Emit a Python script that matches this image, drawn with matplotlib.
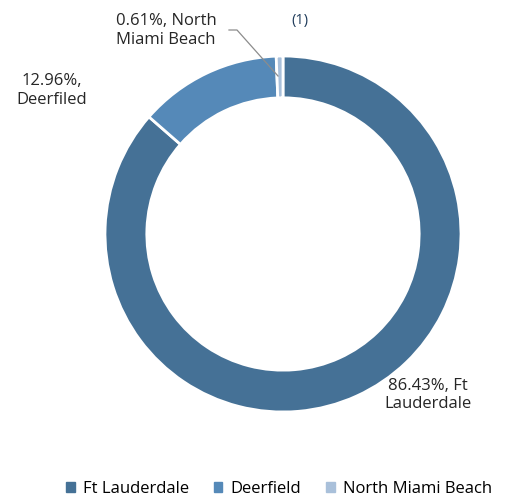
import matplotlib
matplotlib.use("Agg")
from matplotlib import pyplot as plt

cities = ["Ft Lauderdale", "Deerfield", "North Miami Beach"]
shares = [86.43, 12.96, 0.61]
label_names = ["Ft\nLauderdale", "Deerfiled", "North\nMiami Beach"]
colors = ["#457196", "#5589B8", "#A9C0DA"]

plt.rcParams['font.family'] = ['Open Sans', 'DejaVu Sans']

W, H = 505, 499
fig = plt.figure(figsize=(W / 100, H / 100), dpi=100)
ax = fig.add_axes([0, 0, 1, 1])

cx, cy, r = 283, H - 234, 178
ax.pie(shares, colors=colors, startangle=90, counterclock=False,
       center=(cx, cy), radius=r, frame=True,
       wedgeprops=dict(width=r * 0.235, edgecolor='white', linewidth=2))
ax.set_xlim(0, W)
ax.set_ylim(0, H)
ax.set_aspect('equal')
ax.axis('off')

fs = 12
ax.text(428, H - 395, f"{shares[0]:.2f}%, Ft\nLauderdale", ha='center', va='center',
        fontsize=fs, color='#262626', linespacing=1.25)
ax.text(52, H - 90, f"{shares[1]:.2f}%,\n{label_names[1]}", ha='center', va='center',
        fontsize=fs, color='#262626', linespacing=1.25)
ax.text(166, H - 30, f"{shares[2]:.2f}%, North\nMiami Beach", ha='center', va='center',
        fontsize=fs, color='#262626', linespacing=1.25)
ax.plot([229, 237, 278], [H - 30, H - 30, H - 76], color='#8c8c8c', lw=0.9)
ax.text(300, H - 20, "(1)", ha='center', va='center', fontsize=10.5, color='#1f3b5a')

handles = [plt.Rectangle((0, 0), 1, 1, color=c) for c in colors]
fig.legend(handles, cities, loc='center', bbox_to_anchor=(0.553, 1 - 489 / H), ncol=3,
           frameon=False, fontsize=12, handlelength=0.5, handleheight=0.5,
           handletextpad=0.5, columnspacing=1.5, borderpad=0.2)

fig.savefig("out.png", dpi=100)
